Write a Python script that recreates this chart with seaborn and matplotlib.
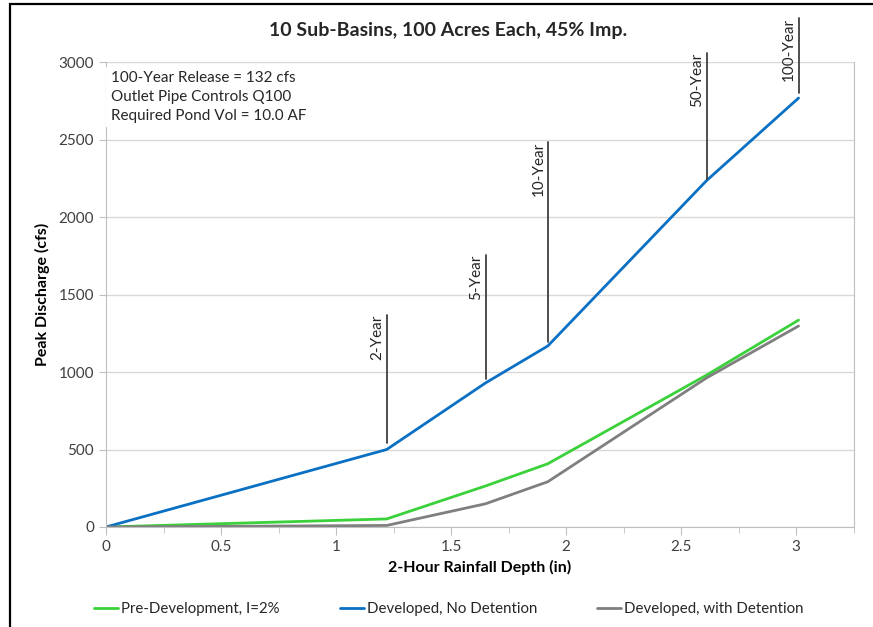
import numpy as np
import pandas as pd
import matplotlib
matplotlib.use("Agg")
import matplotlib.pyplot as plt
from matplotlib.patches import Rectangle
from matplotlib.ticker import MultipleLocator
import seaborn as sns

# 降雨深度 (in) 和峰值流量 (cfs)
rain_depth = [0.0, 1.22, 1.65, 1.92, 2.61, 3.01]
pre_dev = [0, 52, 265, 408, 980, 1335]
dev_no_det = [0, 500, 930, 1168, 2235, 2768]
dev_det = [0, 10, 150, 292, 962, 1297]

series_names = ["Pre-Development, I=2%", "Developed, No Detention", "Developed, with Detention"]
series_colors = ["#3ad13a", "#0a70c4", "#7f7f7f"]

# 重现期标注: 名称, x, 线底, 线顶
storm_labels = ["2-Year", "5-Year", "10-Year", "50-Year", "100-Year"]
storm_x = [1.22, 1.65, 1.92, 2.61, 3.01]
storm_bottom = [545, 955, 1195, 2245, 2800]
storm_top = [1370, 1755, 2485, 3060, 3285]

note_lines = ["100-Year Release = 132 cfs", "Outlet Pipe Controls Q100", "Required Pond Vol = 10.0 AF"]

df = pd.concat([
    pd.DataFrame({"rain": rain_depth, "q": vals, "series": name})
    for name, vals in zip(series_names, [pre_dev, dev_no_det, dev_det])
])

sns.set_style("white")
plt.rcParams["font.family"] = ["Lato", "DejaVu Sans"]

fig = plt.figure(figsize=(8.73, 6.27), dpi=100)
ax = fig.add_axes([0.1214, 0.1595, 0.8566, 0.7415])

sns.lineplot(data=df, x="rain", y="q", hue="series", palette=series_colors,
             hue_order=series_names, linewidth=2, ax=ax, legend=False)

ax.set_xlim(0, 3.25)
ax.set_ylim(0, 3000)
ax.xaxis.set_minor_locator(MultipleLocator(0.25))
ax.yaxis.set_major_locator(MultipleLocator(500))
ax.set_xticks([0, 0.5, 1, 1.5, 2, 2.5, 3])
ax.set_xticklabels(["0", "0.5", "1", "1.5", "2", "2.5", "3"])
ax.grid(axis="y", color="#d9d9d9", linewidth=1)
ax.set_axisbelow(True)
for side in ["left", "bottom", "right"]:
    ax.spines[side].set_color("#bfbfbf")
ax.spines["top"].set_visible(False)
ax.tick_params(axis="both", which="both", direction="out", colors="#bfbfbf",
               labelcolor="#404040", labelsize=11)
ax.tick_params(axis="x", which="major", length=6, bottom=True)
ax.tick_params(axis="x", which="minor", length=4, bottom=True)
ax.tick_params(axis="y", which="major", length=5, left=True)

ax.set_xlabel("2-Hour Rainfall Depth (in)", fontsize=11.5, fontweight="bold", color="#000000")
ax.set_ylabel("Peak Discharge (cfs)", fontsize=11.5, fontweight="bold", color="#000000", labelpad=6)
fig.text(0.513, 0.952, "10 Sub-Basins, 100 Acres Each, 45% Imp.", ha="center", va="center",
         fontsize=14, fontweight="bold")

for name, x, y0, y1 in zip(storm_labels, storm_x, storm_bottom, storm_top):
    ax.plot([x, x], [y0, y1], color="#404040", linewidth=1.3, clip_on=False)
    ax.text(x - 0.01, y1, name, rotation=90, ha="right", va="top",
            fontsize=11, color="#262626", clip_on=False)

ax.text(0.02, 2940, "\n".join(note_lines), ha="left", va="top", fontsize=11,
        color="#262626", linespacing=1.45,
        bbox=dict(facecolor="white", edgecolor="none", pad=3))

handles = [plt.Line2D([], [], color=c, linewidth=2) for c in series_colors]
fig.legend(handles, series_names, loc="center", bbox_to_anchor=(0.514, 0.028),
           ncol=3, frameon=False, fontsize=10.8, handlelength=1.6, handletextpad=0.2,
           columnspacing=4.0)

# 外框线
fig.patches.append(Rectangle((10 / 873, -0.2), 1.2, 1.2 - 4 / 627, transform=fig.transFigure,
                             fill=False, edgecolor="black", linewidth=1.6))

fig.savefig("out.png", dpi=100)
